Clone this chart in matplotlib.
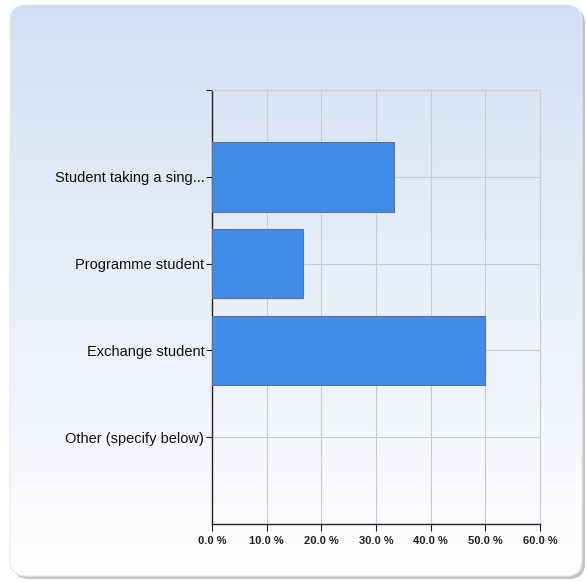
import numpy as np
import matplotlib
matplotlib.use('Agg')
import matplotlib.pyplot as plt
from matplotlib.patches import FancyBboxPatch

categories = ['Student taking a sing...', 'Programme student', 'Exchange student', 'Other (specify below)']
percent = [33.3, 16.7, 50.0, 0.0]
xticks = [0, 10, 20, 30, 40, 50, 60]
xtick_labels = ['0.0 %', '10.0 %', '20.0 %', '30.0 %', '40.0 %', '50.0 %', '60.0 %']

plt.rcParams['font.family'] = ['Liberation Sans', 'DejaVu Sans']

W, H = 587, 582
fig = plt.figure(figsize=(W / 100, H / 100), dpi=100)
fig.patch.set_facecolor('white')

# background panel with gradient and shadow
bg = fig.add_axes([0, 0, 1, 1])
bg.set_xlim(0, W)
bg.set_ylim(H, 0)
bg.axis('off')

px0, py0, px1, py1 = 10, 5, 582, 576
shadow = FancyBboxPatch((px0 + 3, py0 + 3), px1 - px0, py1 - py0,
                        boxstyle='round,pad=0,rounding_size=16',
                        facecolor='#c4c4c4', edgecolor='none', zorder=0)
bg.add_patch(shadow)
panel = FancyBboxPatch((px0, py0), px1 - px0, py1 - py0,
                       boxstyle='round,pad=0,rounding_size=16',
                       facecolor='none', edgecolor='#e6e9ee', lw=0.8, zorder=2)
bg.add_patch(panel)
top = np.array([0xd3, 0xdf, 0xf0]) / 255
bot = np.array([1.0, 1.0, 1.0])
t = np.linspace(0, 1, 256)[:, None]
grad = (top[None, :] * (1 - t) + bot[None, :] * t)[:, None, :]
im = bg.imshow(grad, extent=(px0, px1, py1, py0), aspect='auto', zorder=1)
im.set_clip_path(panel)

ax = fig.add_axes([212 / W, 1 - 524 / H, 328 / W, 434 / H])
ax.patch.set_alpha(0)

y = np.arange(len(categories))
widths = [0.8 if v > 0 else 0 for v in percent]
ax.barh(y, percent, height=0.8, color='#418be9', edgecolor='#5f7595', linewidth=widths, zorder=3)

ax.set_xlim(0, 60)
ax.set_ylim(len(categories), -1)
ax.set_xticks(xticks)
ax.set_xticklabels(xtick_labels, fontsize=8, color='#222222', fontweight='bold')
ax.set_yticks(list(y) + [-1])
ax.set_yticklabels(categories + [''], fontsize=10.5, color='#111111')

ax.grid(True, color='#c9ccd2', linewidth=0.8, zorder=0)
for s in ['top', 'right']:
    ax.spines[s].set_color('#c9ccd2')
    ax.spines[s].set_linewidth(0.8)
for s in ['left', 'bottom']:
    ax.spines[s].set_color('#222222')
    ax.spines[s].set_linewidth(1.0)
ax.tick_params(axis='y', length=4, width=0.8, color='#222222', pad=1.5)
ax.tick_params(axis='x', length=5, width=0.8, color='#222222', pad=4)

plt.savefig('out.png', dpi=100)
